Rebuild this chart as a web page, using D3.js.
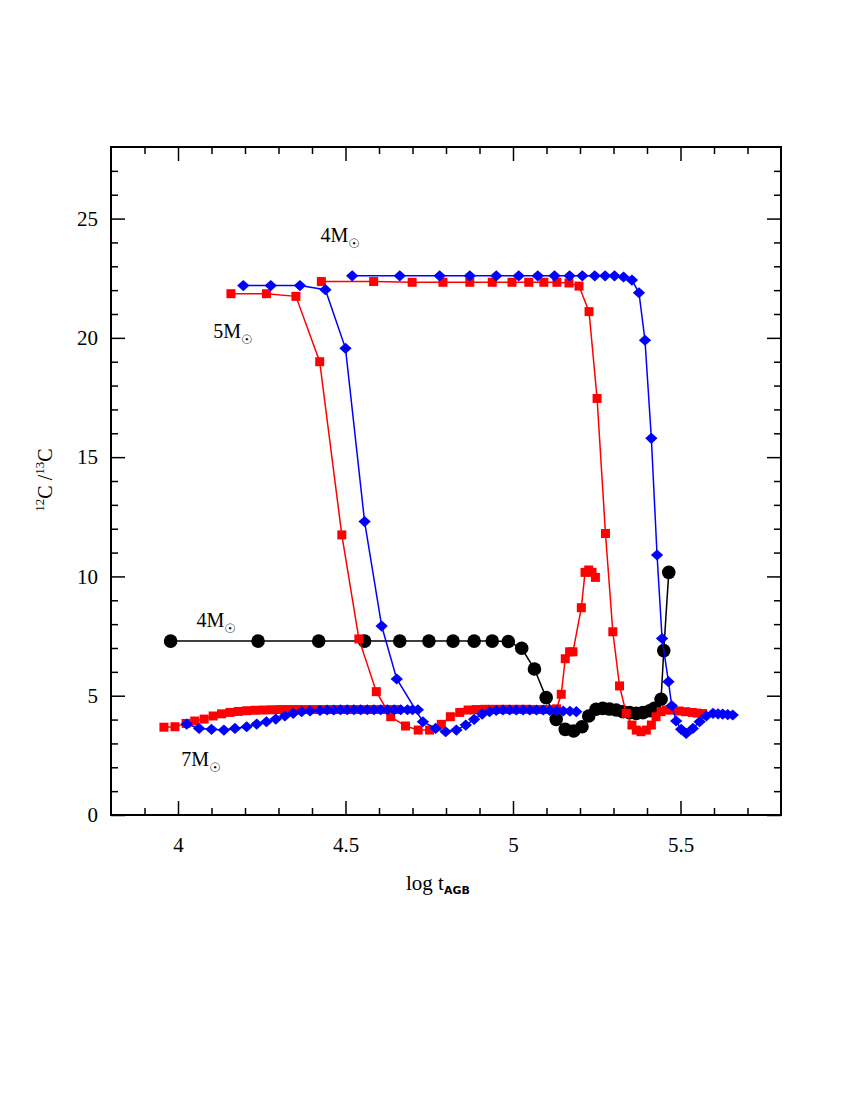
<!DOCTYPE html>
<html>
<head>
<meta charset="utf-8">
<script src="https://cdn.jsdelivr.net/npm/d3@7"></script>
<style>
  body { margin: 0; background: #fff; }
  text { font-family: "Liberation Serif", "DejaVu Serif", serif; fill: #000; }
  .tick line { stroke: #000; stroke-width: 1.5; }
</style>
</head>
<body>
<div id="wrapper"></div>
<script>
// data (log t_AGB, 12C/13C)
const black4X = [3.978, 4.239, 4.42, 4.557, 4.662, 4.749, 4.821, 4.884, 4.938, 4.986, 5.026, 5.064, 5.099, 5.129, 5.156, 5.181, 5.206, 5.226, 5.248, 5.268, 5.288, 5.308, 5.328, 5.348, 5.368, 5.388, 5.408, 5.422, 5.442, 5.45, 5.465]
const black4Y = [7.29, 7.29, 7.29, 7.29, 7.29, 7.29, 7.29, 7.29, 7.29, 7.27, 6.99, 6.12, 4.92, 4.01, 3.59, 3.52, 3.70, 4.15, 4.43, 4.47, 4.44, 4.40, 4.33, 4.29, 4.26, 4.29, 4.37, 4.47, 4.85, 6.89, 10.17]

const red7X = [3.958, 3.991, 4.024, 4.05, 4.078, 4.105, 4.13, 4.155, 4.18, 4.205, 4.23, 4.255, 4.28, 4.305, 4.33, 4.355, 4.38, 4.405, 4.43, 4.455, 4.48, 4.505, 4.53, 4.555, 4.58, 4.605, 4.63, 4.655]
const red7Y = [3.68, 3.70, 3.84, 3.94, 4.02, 4.15, 4.24, 4.30, 4.34, 4.37, 4.39, 4.40, 4.41, 4.42, 4.42, 4.42, 4.42, 4.42, 4.42, 4.42, 4.42, 4.42, 4.42, 4.42, 4.42, 4.42, 4.42, 4.42]

const red5X = [4.158, 4.264, 4.352, 4.423, 4.489, 4.54, 4.592, 4.635, 4.679, 4.717, 4.751, 4.786, 4.813, 4.841, 4.866, 4.89, 4.915, 4.94, 4.965, 4.99, 5.015, 5.04, 5.065, 5.09, 5.115, 5.13, 5.144, 5.156, 5.169, 5.179, 5.204, 5.215, 5.226, 5.236, 5.246]
const red5Y = [21.85, 21.85, 21.74, 19.0, 11.74, 7.38, 5.17, 4.12, 3.73, 3.56, 3.56, 3.80, 4.12, 4.30, 4.40, 4.42, 4.43, 4.43, 4.43, 4.43, 4.43, 4.43, 4.42, 4.42, 4.42, 4.45, 5.06, 6.55, 6.84, 6.84, 8.69, 10.17, 10.27, 10.17, 9.96]

const red4X = [4.428, 4.584, 4.699, 4.791, 4.871, 4.938, 4.997, 5.047, 5.092, 5.131, 5.167, 5.197, 5.227, 5.251, 5.276, 5.298, 5.318, 5.338, 5.355, 5.368, 5.382, 5.398, 5.413, 5.427, 5.442, 5.457, 5.475, 5.495, 5.515, 5.535, 5.55, 5.566]
const red4Y = [22.36, 22.36, 22.33, 22.33, 22.33, 22.33, 22.33, 22.33, 22.33, 22.33, 22.3, 22.17, 21.1, 17.46, 11.8, 7.68, 5.41, 4.26, 3.77, 3.56, 3.49, 3.56, 3.77, 4.12, 4.33, 4.40, 4.40, 4.36, 4.33, 4.30, 4.27, 4.25]

const blue7X = [4.026, 4.063, 4.1, 4.137, 4.17, 4.205, 4.235, 4.264, 4.292, 4.319, 4.344, 4.369, 4.394, 4.424, 4.445, 4.465, 4.485, 4.505, 4.525, 4.545, 4.565, 4.585, 4.605, 4.625, 4.645, 4.665, 4.685, 4.70, 4.716]
const blue7Y = [3.81, 3.63, 3.59, 3.56, 3.63, 3.70, 3.81, 3.91, 4.02, 4.15, 4.26, 4.33, 4.36, 4.38, 4.40, 4.40, 4.41, 4.41, 4.41, 4.41, 4.41, 4.41, 4.41, 4.41, 4.41, 4.41, 4.41, 4.41, 4.41]

const blue5X = [4.195, 4.277, 4.364, 4.44, 4.5, 4.557, 4.608, 4.653, 4.731, 4.769, 4.799, 4.831, 4.859, 4.884, 4.908, 4.93, 4.95, 4.97, 4.99, 5.01, 5.03, 5.05, 5.07, 5.09, 5.11, 5.13, 5.15, 5.17, 5.189]
const blue5Y = [22.19, 22.19, 22.19, 22.02, 19.56, 12.3, 7.92, 5.7, 3.91, 3.63, 3.49, 3.56, 3.77, 4.01, 4.23, 4.33, 4.38, 4.40, 4.40, 4.40, 4.40, 4.40, 4.40, 4.40, 4.38, 4.37, 4.36, 4.35, 4.33]

const blue4X = [4.52, 4.662, 4.781, 4.871, 4.95, 5.017, 5.074, 5.124, 5.169, 5.207, 5.244, 5.275, 5.303, 5.33, 5.355, 5.376, 5.394, 5.413, 5.43, 5.445, 5.464, 5.474, 5.487, 5.502, 5.517, 5.537, 5.557, 5.577, 5.597, 5.612, 5.626, 5.641, 5.656]
const blue4Y = [22.6, 22.6, 22.6, 22.6, 22.6, 22.6, 22.6, 22.6, 22.6, 22.6, 22.6, 22.6, 22.6, 22.55, 22.42, 21.89, 19.9, 15.79, 10.9, 7.4, 5.59, 4.58, 3.94, 3.59, 3.42, 3.63, 3.91, 4.15, 4.26, 4.24, 4.23, 4.21, 4.19]

const xMajorTicks = [4, 4.5, 5, 5.5]
const yMajorTicks = [0, 5, 10, 15, 20, 25]

const labels = [
  {text: "4M", x: 4.425, y: 24.0},
  {text: "5M", x: 4.105, y: 20.0},
  {text: "4M", x: 4.055, y: 7.9},
  {text: "7M", x: 4.01, y: 2.05},
]

function drawChart() {
  const dimensions = {
    width: 850,
    height: 1100,
    margin: {top: 147, left: 111},
    boundedWidth: 670,
    boundedHeight: 668,
  }

  const wrapper = d3.select("#wrapper")
    .append("svg")
      .attr("width", dimensions.width)
      .attr("height", dimensions.height)

  const bounds = wrapper.append("g")
      .attr("transform", `translate(${dimensions.margin.left}, ${dimensions.margin.top})`)

  const xScale = d3.scaleLinear()
    .domain([3.8, 5.8])
    .range([0, dimensions.boundedWidth])
  const yScale = d3.scaleLinear()
    .domain([0, 28])
    .range([dimensions.boundedHeight, 0])

  // minor tick values
  const xMinor = d3.range(39, 58).map(d => d / 10).filter(d => !xMajorTicks.some(m => Math.abs(m - d) < 1e-6))
  const yMinor = d3.range(1, 28).filter(d => d % 5 != 0)

  const addAxis = (gen, tx, ty) => {
    const g = bounds.append("g")
      .attr("transform", `translate(${tx}, ${ty})`)
      .attr("font-family", "'Liberation Serif', serif")
      .call(gen)
    g.select(".domain").remove()
    g.selectAll("text")
      .style("font-size", "21px")
      .style("font-family", "'Liberation Serif', serif")
    return g
  }

  // bottom
  addAxis(d3.axisBottom(xScale).tickValues(xMajorTicks).tickSize(-14).tickPadding(22).tickFormat(d3.format("")), 0, dimensions.boundedHeight)
  addAxis(d3.axisBottom(xScale).tickValues(xMinor).tickSize(-7).tickFormat(""), 0, dimensions.boundedHeight)
  // top
  addAxis(d3.axisTop(xScale).tickValues(xMajorTicks).tickSize(-14).tickFormat(""), 0, 0)
  addAxis(d3.axisTop(xScale).tickValues(xMinor).tickSize(-7).tickFormat(""), 0, 0)
  // left
  addAxis(d3.axisLeft(yScale).tickValues(yMajorTicks).tickSize(-14).tickPadding(13), 0, 0)
  addAxis(d3.axisLeft(yScale).tickValues(yMinor).tickSize(-7).tickFormat(""), 0, 0)
  // right
  addAxis(d3.axisRight(yScale).tickValues(yMajorTicks).tickSize(-14).tickFormat(""), dimensions.boundedWidth, 0)
  addAxis(d3.axisRight(yScale).tickValues(yMinor).tickSize(-7).tickFormat(""), dimensions.boundedWidth, 0)

  bounds.append("rect")
      .attr("width", dimensions.boundedWidth)
      .attr("height", dimensions.boundedHeight)
      .attr("fill", "none")
      .attr("stroke", "#000")
      .attr("stroke-width", 2)

  const line = d3.line()
    .x(d => xScale(d[0]))
    .y(d => yScale(d[1]))

  const drawSeries = (xs, ys, color, shape) => {
    const pts = xs.map((x, i) => [x, ys[i]])
    bounds.append("path")
      .datum(pts)
      .attr("d", line)
      .attr("fill", "none")
      .attr("stroke", color)
      .attr("stroke-width", 1.5)
    const marks = bounds.append("g")
    if (shape == "circle") {
      marks.selectAll("circle").data(pts).enter().append("circle")
        .attr("cx", d => xScale(d[0]))
        .attr("cy", d => yScale(d[1]))
        .attr("r", 6.8)
        .attr("fill", color)
    } else if (shape == "square") {
      marks.selectAll("rect").data(pts).enter().append("rect")
        .attr("x", d => xScale(d[0]) - 4.5)
        .attr("y", d => yScale(d[1]) - 4.5)
        .attr("width", 9)
        .attr("height", 9)
        .attr("fill", color)
    } else {
      marks.selectAll("path").data(pts).enter().append("path")
        .attr("d", d3.symbol(d3.symbolDiamond2, 88))
        .attr("transform", d => `translate(${xScale(d[0])}, ${yScale(d[1])}) scale(1.05, 0.95)`)
        .attr("fill", color)
    }
  }

  drawSeries(black4X, black4Y, "#000", "circle")
  drawSeries(red7X, red7Y, "#ff0000", "square")
  drawSeries(red5X, red5Y, "#ff0000", "square")
  drawSeries(red4X, red4Y, "#ff0000", "square")
  drawSeries(blue7X, blue7Y, "#0000ff", "diamond")
  drawSeries(blue5X, blue5Y, "#0000ff", "diamond")
  drawSeries(blue4X, blue4Y, "#0000ff", "diamond")

  // mass labels
  const lab = bounds.selectAll(".mass")
    .data(labels)
    .enter().append("text")
      .attr("class", "mass")
      .attr("x", d => xScale(d.x))
      .attr("y", d => yScale(d.y))
      .style("font-size", "20px")
  lab.append("tspan").text(d => d.text)
  lab.append("tspan")
      .attr("dy", 6)
      .style("font-size", "13px")
      .style("font-family", "'DejaVu Sans', sans-serif")
      .text("\u2609")

  // x axis label
  const xLabel = wrapper.append("text")
      .attr("x", 406)
      .attr("y", 890)
      .style("font-size", "21px")
  xLabel.append("tspan").text("log  t")
  xLabel.append("tspan")
      .attr("dy", 4)
      .style("font-size", "11px")
      .style("font-weight", "bold")
      .style("font-family", "'DejaVu Sans', sans-serif")
      .text("AGB")

  // y axis label
  const yLabel = wrapper.append("text")
      .attr("transform", "translate(52, 480) rotate(-90)")
      .attr("text-anchor", "middle")
      .style("font-size", "20px")
  yLabel.append("tspan").attr("dy", -8).style("font-size", "13px").text("12")
  yLabel.append("tspan").attr("dy", 8).text("C /")
  yLabel.append("tspan").attr("dy", -8).style("font-size", "13px").text("13")
  yLabel.append("tspan").attr("dy", 8).text("C")
}
drawChart()
</script>
</body>
</html>
